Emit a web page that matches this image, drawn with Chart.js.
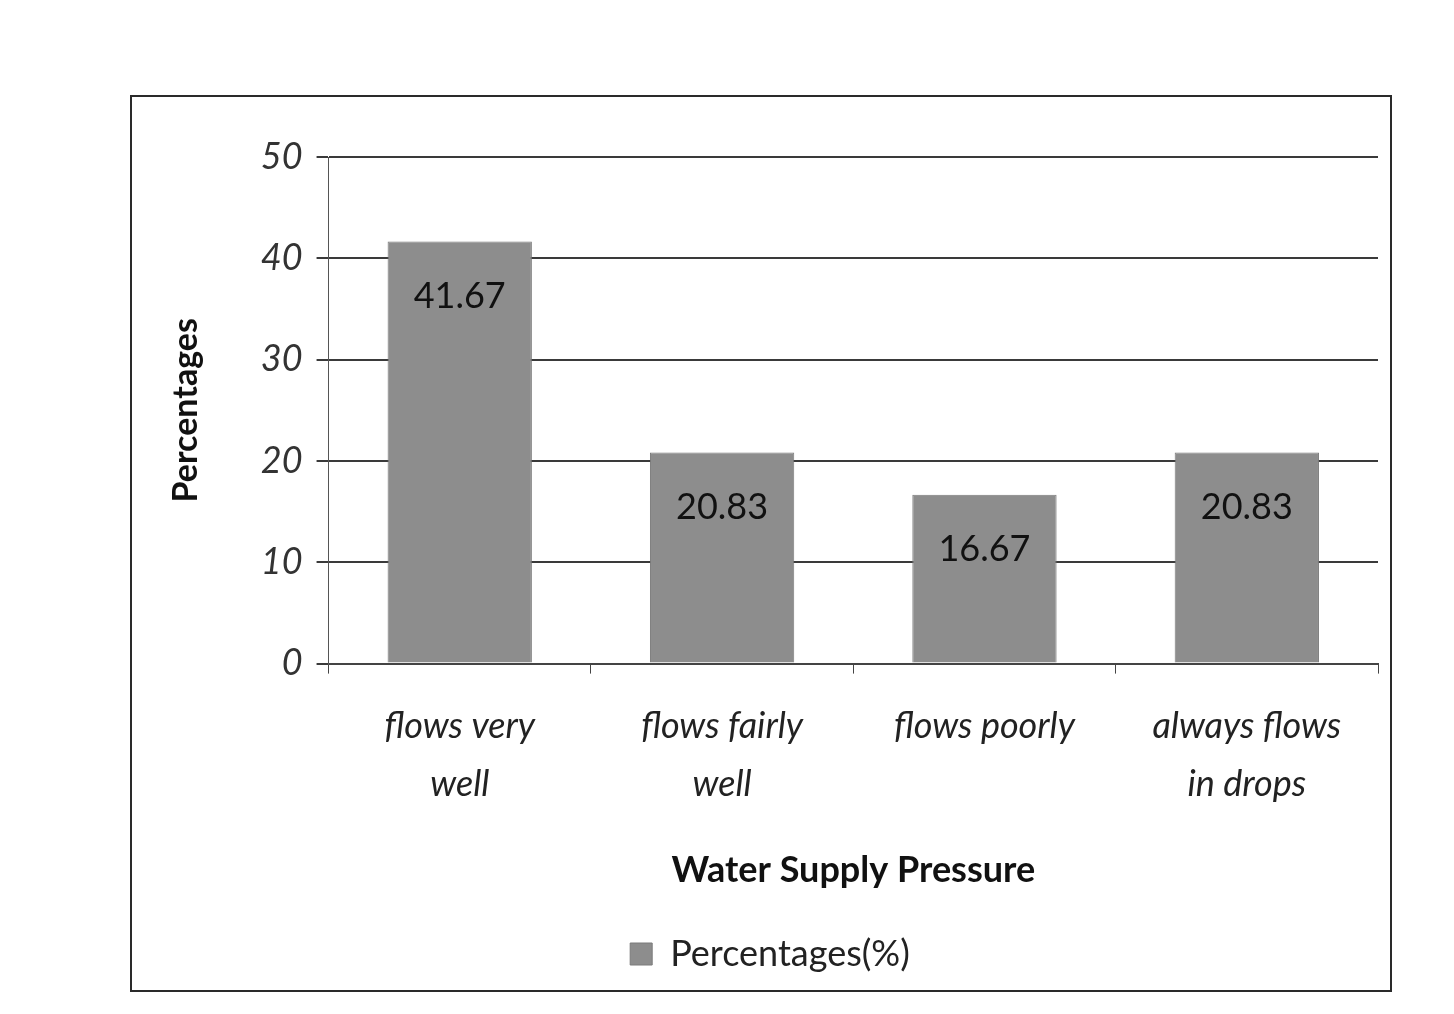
<!DOCTYPE html>
<html>
<head>
<meta charset="utf-8">
<script src="https://cdn.jsdelivr.net/npm/chart.js@4/dist/chart.umd.min.js"></script>
<style>
  body { margin: 0; background: #ffffff; width: 1454px; height: 1014px; overflow: hidden; }
  #frame {
    position: absolute; left: 130px; top: 95px;
    width: 1258px; height: 893px;
    border: 2px solid #2a2a2a; background: #ffffff;
  }
</style>
</head>
<body>
<div id="frame"><canvas id="waterChart"></canvas></div>
<script>
// Water supply pressure survey
const categories = [['flows very', 'well'], ['flows fairly', 'well'], 'flows poorly', ['always flows', 'in drops']];
const percentages = [41.67, 20.83, 16.67, 20.83];
const yTicks = [0, 10, 20, 30, 40, 50];

const fontFamily = "Lato, 'Open Sans', sans-serif";

// Draw the value labels just under the top of each bar
const valueLabels = {
    id: 'valueLabels',
    afterDatasetsDraw(chart) {
        const ctx = chart.ctx;
        const meta = chart.getDatasetMeta(0);
        ctx.save();
        ctx.font = "36px " + fontFamily;
        ctx.fillStyle = '#111111';
        ctx.textAlign = 'center';
        ctx.textBaseline = 'middle';
        meta.data.forEach((bar, i) => {
            ctx.fillText(percentages[i].toFixed(2), bar.x, bar.y + 55);
        });
        ctx.restore();
    }
};

new Chart(document.getElementById('waterChart'), {
    type: 'bar',
    data: {
        labels: categories,
        datasets: [{
            label: 'Percentages(%)',
            data: percentages,
            backgroundColor: '#8d8d8d',
            borderColor: '#7a7a7a',
            borderWidth: 1,
            categoryPercentage: 1,
            barPercentage: 0.55
        }]
    },
    options: {
        responsive: true,
        maintainAspectRatio: false,
        animation: false,
        layout: { padding: { top: 60, right: 12, left: 30, bottom: 8 } },
        plugins: {
            tooltip: { enabled: false },
            legend: {
                position: 'bottom',
                labels: {
                    color: '#222222',
                    font: { family: fontFamily, size: 36 },
                    boxWidth: 22,
                    boxHeight: 22,
                    padding: 10
                }
            }
        },
        scales: {
            x: {
                offset: true,
                grid: { display: true, drawOnChartArea: false, offset: true, tickLength: 10, color: '#444444' },
                border: { color: '#444444', width: 2 },
                ticks: {
                    color: '#222222',
                    font: { family: fontFamily, size: 36, style: 'italic', lineHeight: 1.6 },
                    maxRotation: 0,
                    padding: 24
                },
                title: {
                    display: true,
                    text: 'Water Supply Pressure',
                    color: '#111111',
                    font: { family: fontFamily, size: 36, weight: 'bold' },
                    padding: { top: 12, bottom: 34 }
                }
            },
            y: {
                min: 0,
                max: 50,
                afterBuildTicks(axis) {
                    axis.ticks = yTicks.map(v => ({ value: v }));
                },
                grid: { color: '#3a3a3a', lineWidth: 2, tickLength: 12 },
                border: { color: '#555555', width: 1 },
                ticks: {
                    color: '#333333',
                    font: { family: fontFamily, size: 36, style: 'italic' },
                    padding: 14
                },
                title: {
                    display: true,
                    text: 'Percentages',
                    color: '#111111',
                    font: { family: fontFamily, size: 34, weight: 'bold' },
                    padding: { bottom: 40 }
                }
            }
        }
    },
    plugins: [valueLabels]
});
</script>
</body>
</html>
